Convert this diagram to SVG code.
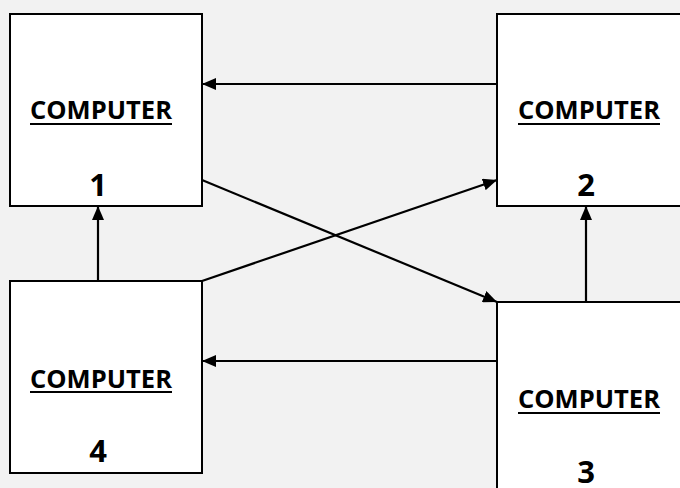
<svg xmlns="http://www.w3.org/2000/svg" width="680" height="488" viewBox="0 0 680 488">
<style>
.box{fill:#ffffff;stroke:#000;stroke-width:2}
.lbl{font-family:"Open Sans","Liberation Sans",sans-serif;font-weight:bold;font-size:25.5px;fill:#000;text-anchor:middle}
.num{font-family:"Open Sans","Liberation Sans",sans-serif;font-weight:bold;font-size:31px;fill:#000;text-anchor:middle}
.ul{stroke:#000;stroke-width:2}
.edge{stroke:#000;stroke-width:2.2;fill:none;marker-end:url(#ah)}
</style>
<defs>
<marker id="ah" viewBox="0 0 14 12" refX="14" refY="6" markerWidth="14" markerHeight="12" markerUnits="userSpaceOnUse" orient="auto">
<path d="M0,0 L14,6 L0,12 Z" fill="#000"/>
</marker>
</defs>
<rect width="680" height="488" fill="#f2f2f2"/>
<g id="node1">
<rect class="box" x="10" y="14" width="192" height="192"/>
<text class="lbl" x="101" y="119" textLength="142" lengthAdjust="spacingAndGlyphs">COMPUTER</text>
<line class="ul" x1="30" y1="124" x2="172" y2="124"/>
<text class="num" x="98" y="196">1</text>
</g>
<g id="node2">
<rect class="box" x="497" y="14" width="192" height="192"/>
<text class="lbl" x="589" y="119" textLength="142" lengthAdjust="spacingAndGlyphs">COMPUTER</text>
<line class="ul" x1="518" y1="124" x2="660" y2="124"/>
<text class="num" x="586" y="196">2</text>
</g>
<g id="node3">
<rect class="box" x="497" y="302" width="192" height="192"/>
<text class="lbl" x="589" y="408" textLength="142" lengthAdjust="spacingAndGlyphs">COMPUTER</text>
<line class="ul" x1="518" y1="413" x2="660" y2="413"/>
<text class="num" x="586" y="483">3</text>
</g>
<g id="node4">
<rect class="box" x="10" y="281" width="192" height="192"/>
<text class="lbl" x="101" y="388" textLength="142" lengthAdjust="spacingAndGlyphs">COMPUTER</text>
<line class="ul" x1="30" y1="392" x2="172" y2="392"/>
<text class="num" x="98" y="462">4</text>
</g>
<g id="connectors">
<line class="edge" x1="497" y1="84" x2="202" y2="84"/>
<line class="edge" x1="98" y1="281" x2="98" y2="206"/>
<line class="edge" x1="586" y1="302" x2="586" y2="206"/>
<line class="edge" x1="497" y1="361" x2="202" y2="361"/>
<line class="edge" x1="202" y1="180" x2="497" y2="302"/>
<line class="edge" x1="202" y1="281" x2="497" y2="180"/>
</g>
</svg>
